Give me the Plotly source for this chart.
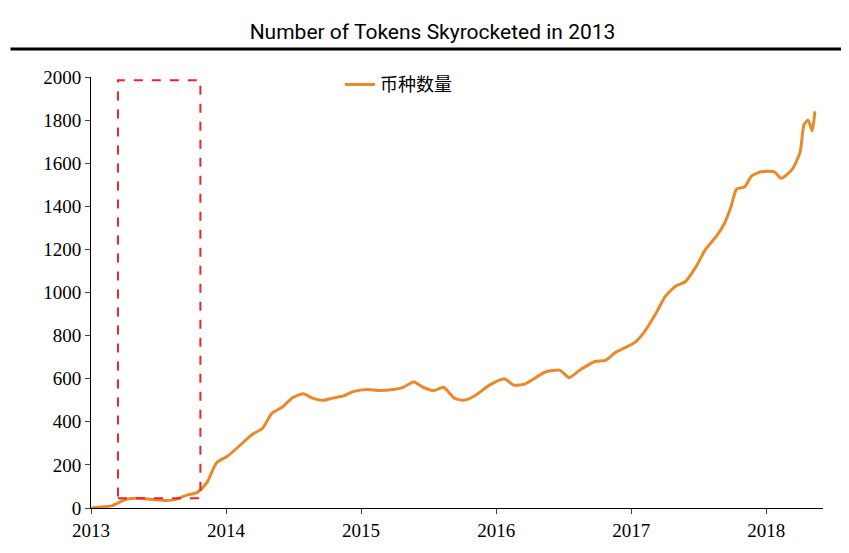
import plotly.graph_objects as go

# decimal year vs number of tokens
years = [2013.00, 2013.07, 2013.15, 2013.22, 2013.26, 2013.34, 2013.45, 2013.56, 2013.63, 2013.71,
         2013.78, 2013.82, 2013.86, 2013.93, 2014.01, 2014.12, 2014.19, 2014.27, 2014.34, 2014.42,
         2014.49, 2014.57, 2014.64, 2014.72, 2014.79, 2014.87, 2014.94, 2015.05, 2015.13, 2015.24,
         2015.31, 2015.39, 2015.46, 2015.54, 2015.61, 2015.69, 2015.76, 2015.84, 2015.95, 2016.06,
         2016.13, 2016.21, 2016.28, 2016.36, 2016.47, 2016.54, 2016.62, 2016.73, 2016.81, 2016.88,
         2017.03, 2017.10, 2017.18, 2017.25, 2017.33, 2017.40, 2017.48, 2017.55, 2017.63, 2017.69,
         2017.74, 2017.78, 2017.84, 2017.89, 2017.96, 2018.06, 2018.11, 2018.19, 2018.25, 2018.28,
         2018.31, 2018.34, 2018.36]
tokens = [0, 5, 10, 30, 40, 45, 40, 35, 40, 60,
          70, 90, 120, 210, 240, 300, 340, 370, 440, 470,
          510, 530, 510, 500, 510, 520, 540, 550, 545, 550,
          560, 585, 560, 545, 560, 510, 500, 520, 570, 600,
          570, 575, 600, 630, 640, 605, 640, 680, 685, 720,
          770, 820, 900, 980, 1030, 1050, 1120, 1200, 1260, 1320,
          1400, 1480, 1490, 1540, 1560, 1560, 1530, 1570, 1650, 1780,
          1800, 1750, 1840]
tick_years = [2013, 2014, 2015, 2016, 2017, 2018]

fig = go.Figure()
fig.add_trace(go.Scatter(x=years, y=tokens, mode='lines', name='币种数量',
                         line=dict(color='#E8892B', width=3, shape='spline', smoothing=0.6)))

# red dashed box around 2013
fig.add_shape(type='rect', x0=2013.2, x1=2013.81, y0=45, y1=1985,
              line=dict(color='#E8262B', width=2, dash='dash'))
# heavy rule under the title
fig.add_shape(type='line', xref='paper', yref='paper', x0=-0.11, x1=1.04, y0=1.065, y1=1.065,
              line=dict(color='black', width=3))

fig.update_layout(
    width=849, height=553,
    margin=dict(l=83, r=34, t=69, b=53),
    paper_bgcolor='white', plot_bgcolor='white',
    title=dict(text='Number of Tokens Skyrocketed in 2013', x=0.5, y=0.97, xanchor='center',
               yanchor='top', font=dict(family='Roboto', size=21, color='black')),
    legend=dict(x=0.34, y=1.025, xanchor='left', yanchor='top', bgcolor='rgba(0,0,0,0)',
                font=dict(family='Noto Sans CJK SC', size=18, color='black')),
    showlegend=True,
)
fig.update_xaxes(range=[2013, 2018.42], tickvals=tick_years, ticktext=[str(t) for t in tick_years],
                 showline=True, linecolor='black', linewidth=1, ticks='outside', showgrid=False,
                 zeroline=False, tickfont=dict(family='Liberation Serif', size=19, color='black'))
fig.update_yaxes(range=[0, 2000], dtick=200, showline=True, linecolor='black', linewidth=1,
                 ticks='outside', showgrid=False, zeroline=False,
                 tickfont=dict(family='Liberation Serif', size=19, color='black'))

fig.write_html("out.html")
